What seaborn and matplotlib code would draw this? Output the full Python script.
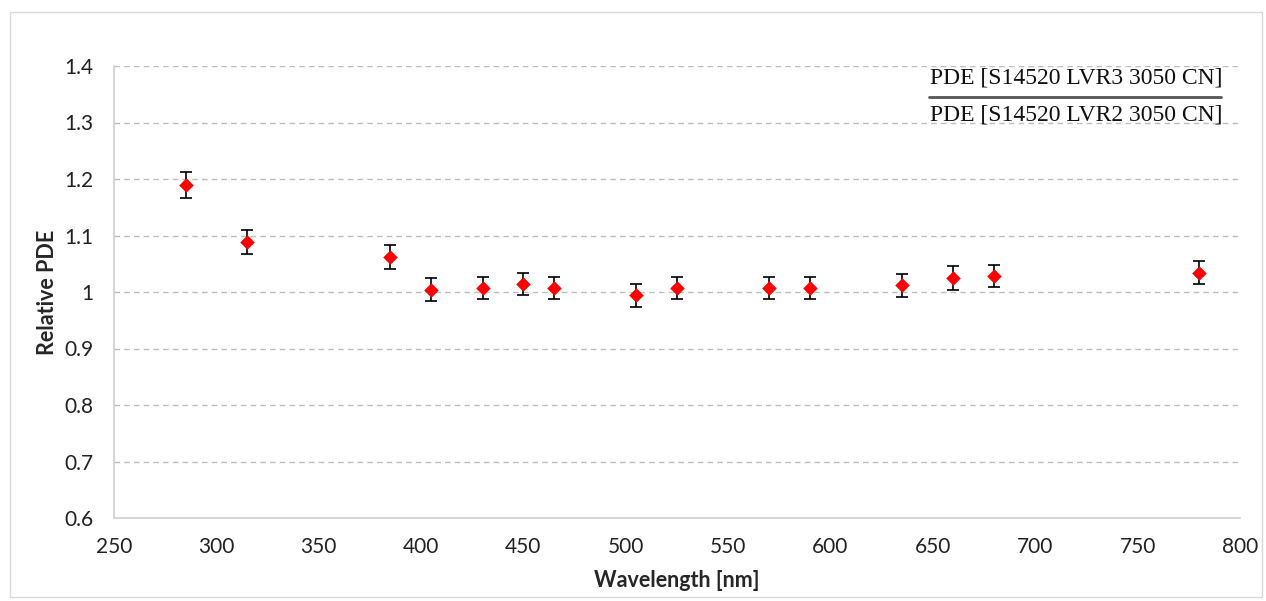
import matplotlib
matplotlib.use("Agg")
import matplotlib.pyplot as plt
import seaborn as sns
import pandas as pd
from matplotlib.patches import Rectangle

wavelength = [285, 315, 385, 405, 430, 450, 465, 505, 525, 570, 590, 635, 660, 680, 780]
relative_pde = [1.189, 1.088, 1.062, 1.004, 1.007, 1.014, 1.007, 0.994, 1.007, 1.007, 1.007, 1.012, 1.025, 1.028, 1.034]
pde_err = [0.023, 0.021, 0.021, 0.020, 0.020, 0.020, 0.020, 0.020, 0.020, 0.020, 0.020, 0.020, 0.021, 0.020, 0.020]
y_ticks = [0.6, 0.7, 0.8, 0.9, 1.0, 1.1, 1.2, 1.3, 1.4]
y_tick_labels = ["0.6", "0.7", "0.8", "0.9", "1", "1.1", "1.2", "1.3", "1.4"]
x_ticks = [250, 300, 350, 400, 450, 500, 550, 600, 650, 700, 750, 800]
numerator = "PDE [S14520 LVR3 3050 CN]"
denominator = "PDE [S14520 LVR2 3050 CN]"

df = pd.DataFrame({"wl": wavelength, "pde": relative_pde, "err": pde_err})

sns.set_theme(style="white")
plt.rcParams["font.family"] = ["Lato", "DejaVu Sans"]

fig = plt.figure(figsize=(12.66, 6.01), dpi=100)
ax = fig.add_axes([114/1266, 1-518/601, (1240-114)/1266, (518-66)/601])

fig.patches.append(Rectangle((10/1266, 1-597/601), 1252/1266, 585/601, transform=fig.transFigure,
                             fill=False, edgecolor="#d9d9d9", linewidth=1.0))

ax.errorbar(df["wl"], df["pde"], yerr=df["err"], fmt="none", ecolor="black",
            elinewidth=1.2, capsize=4, capthick=1.2, zorder=2)
sns.scatterplot(data=df, x="wl", y="pde", marker="D", color="#ff0000", s=55,
                edgecolor="#ff0000", linewidth=0, ax=ax, zorder=3)

ax.set_xlim(250, 800)
ax.set_ylim(0.6, 1.4)
ax.set_xticks(x_ticks)
ax.set_xticklabels([str(v) for v in x_ticks], fontsize=15, color="#222222")
ax.set_yticks(y_ticks)
ax.set_yticklabels(y_tick_labels, fontsize=15, color="#222222")
ax.tick_params(axis="y", length=0, pad=15)
ax.tick_params(axis="x", length=0, pad=14)
for yv in y_ticks[1:]:
    ax.axhline(yv, color="#bdbdbd", linestyle=(0, (4, 3)), linewidth=1.0, zorder=0)
for s in ["top", "right"]:
    ax.spines[s].set_visible(False)
for s in ["left", "bottom"]:
    ax.spines[s].set_color("#d0d0d0")
    ax.spines[s].set_linewidth(1.2)

ax.set_xlabel("Wavelength [nm]", fontsize=15.5, fontweight="bold", labelpad=9)
ax.set_ylabel("Relative PDE", fontsize=15.5, fontweight="bold", labelpad=4)

ax.text(1222/1266, 1-78/601, numerator, transform=fig.transFigure, ha="right", va="center",
        fontsize=17, family=["Liberation Serif"], color="#111111")
ax.text(1222/1266, 1-115/601, denominator, transform=fig.transFigure, ha="right", va="center",
        fontsize=17, family=["Liberation Serif"], color="#111111")
fig.add_artist(plt.Line2D([929/1266, 1221/1266], [1-97/601, 1-97/601], transform=fig.transFigure,
                          color="#555555", linewidth=2))

fig.savefig("out.png", dpi=100)
